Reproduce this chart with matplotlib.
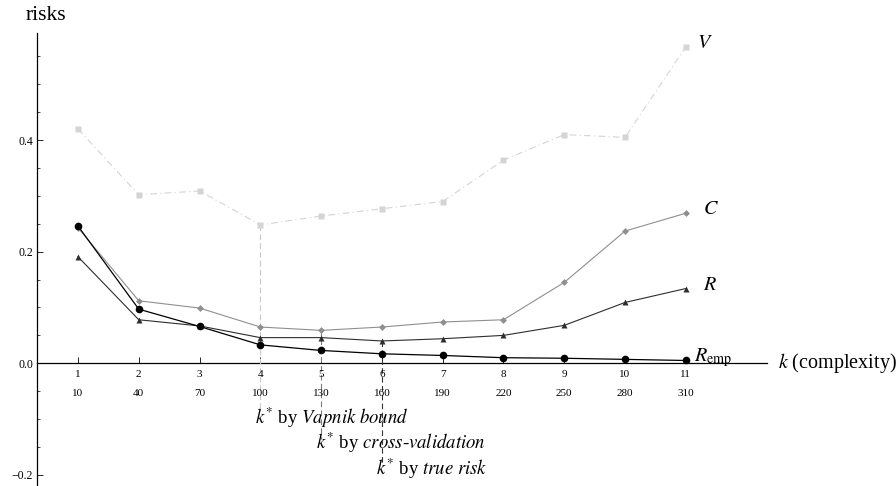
import matplotlib
matplotlib.use("Agg")
import matplotlib.pyplot as plt
from matplotlib.ticker import MultipleLocator

# complexity index and the matching parameter value
k = [1, 2, 3, 4, 5, 6, 7, 8, 9, 10, 11]
param = [10, 40, 70, 100, 130, 160, 190, 220, 250, 280, 310]

# risk curves
V = [0.420, 0.302, 0.309, 0.248, 0.264, 0.277, 0.290, 0.364, 0.410, 0.405, 0.567]
C = [0.243, 0.112, 0.099, 0.065, 0.059, 0.065, 0.074, 0.078, 0.145, 0.237, 0.269]
R = [0.191, 0.078, 0.067, 0.046, 0.046, 0.040, 0.044, 0.050, 0.068, 0.109, 0.134]
R_emp = [0.246, 0.097, 0.066, 0.033, 0.023, 0.017, 0.014, 0.010, 0.009, 0.007, 0.005]

# chosen k* per criterion
k_vapnik, k_cv, k_true = 4, 5, 6

plt.rcParams['font.family'] = ['Liberation Serif', 'DejaVu Serif']
plt.rcParams['mathtext.fontset'] = 'stix'

fig = plt.figure(figsize=(8.96, 4.86), dpi=100)
ax = fig.add_axes([0.0416, 0.0, 0.8147, 0.932])

ax.plot(k, V, color='#d4d4d4', lw=0.8, ls=(0, (6, 3, 1, 3)),
        marker='s', ms=5, mec='none', zorder=3)
ax.plot(k, C, color='#8f8f8f', lw=0.8, marker='D', ms=3.5, mec='none', zorder=4)
ax.plot(k, R, color='#2e2e2e', lw=0.8, marker='^', ms=4.5, mec='none', zorder=5)
ax.plot(k, R_emp, color='black', lw=0.9, marker='o', ms=5.5, mec='none', zorder=6)

# vertical markers for k* choices
ax.plot([k_vapnik, k_vapnik], [V[k_vapnik - 1], -0.085], color='#c8c8c8',
        lw=0.8, ls=(0, (5, 3)), zorder=2)
ax.plot([k_cv, k_cv], [C[k_cv - 1], -0.135], color='#7a7a7a',
        lw=0.8, ls=(0, (5, 3)), zorder=2)
ax.plot([k_true, k_true], [R[k_true - 1], -0.185], color='#333333',
        lw=0.8, ls=(0, (5, 3)), zorder=2)

fs = 14.5
fk = 13.5
ax.text(k_vapnik - 0.09, -0.098, r'$k^{*}$ by $\mathit{Vapnik\ bound}$',
        fontsize=fk, va='center', ha='left', zorder=1)
ax.text(k_cv - 0.09, -0.143, r'$k^{*}$ by $\mathit{cross}$-$\mathit{validation}$',
        fontsize=fk, va='center', ha='left', zorder=1)
ax.text(k_true - 0.09, -0.19, r'$k^{*}$ by $\mathit{true\ risk}$',
        fontsize=fk, va='center', ha='left', zorder=1)

# curve labels
ax.text(k[-1] + 0.18, V[-1] + 0.007, r'$V$', fontsize=fs, va='center')
ax.text(k[-1] + 0.28, C[-1] + 0.006, r'$C$', fontsize=fs, va='center')
ax.text(k[-1] + 0.28, R[-1] + 0.006, r'$R$', fontsize=fs, va='center')
ax.text(k[-1] + 0.14, R_emp[-1] + 0.005, r'$R_{\mathrm{emp}}$', fontsize=fs, va='center')

ax.set_xlim(0.33, 12.34)
ax.set_ylim(-0.22, 0.592)

ax.spines['top'].set_visible(False)
ax.spines['right'].set_visible(False)
ax.spines['bottom'].set_position(('data', 0))
ax.spines['left'].set_linewidth(0.9)
ax.spines['bottom'].set_linewidth(0.9)
ax.spines['bottom'].set_zorder(1)

ax.set_xticks(k)
ax.set_xticklabels([])
ax.tick_params(axis='x', direction='in', length=4, width=0.6)
for kk, p in zip(k, param):
    ax.text(kk, -0.021, str(kk), fontsize=8, ha='center', va='center')
    ax.text(kk, -0.055, str(p), fontsize=8, ha='center', va='center')

ax.set_yticks([-0.2, 0.0, 0.2, 0.4])
ax.set_yticklabels(['\u22120.2', '0.0', '0.2', '0.4'])
ax.yaxis.set_minor_locator(MultipleLocator(0.05))
ax.tick_params(axis='y', which='major', direction='in', length=4, width=0.6,
               labelsize=8.5, pad=3)
ax.tick_params(axis='y', which='minor', direction='in', length=2.5, width=0.5)

# axis captions
fig.text(26 / 896, 1 - 15 / 486, 'risks', fontsize=15.5, ha='left', va='center')
ax.text(12.52, 0.0, r'$k$ (complexity)', fontsize=fs, ha='left', va='center',
        clip_on=False)

fig.savefig('out.png', dpi=100)
